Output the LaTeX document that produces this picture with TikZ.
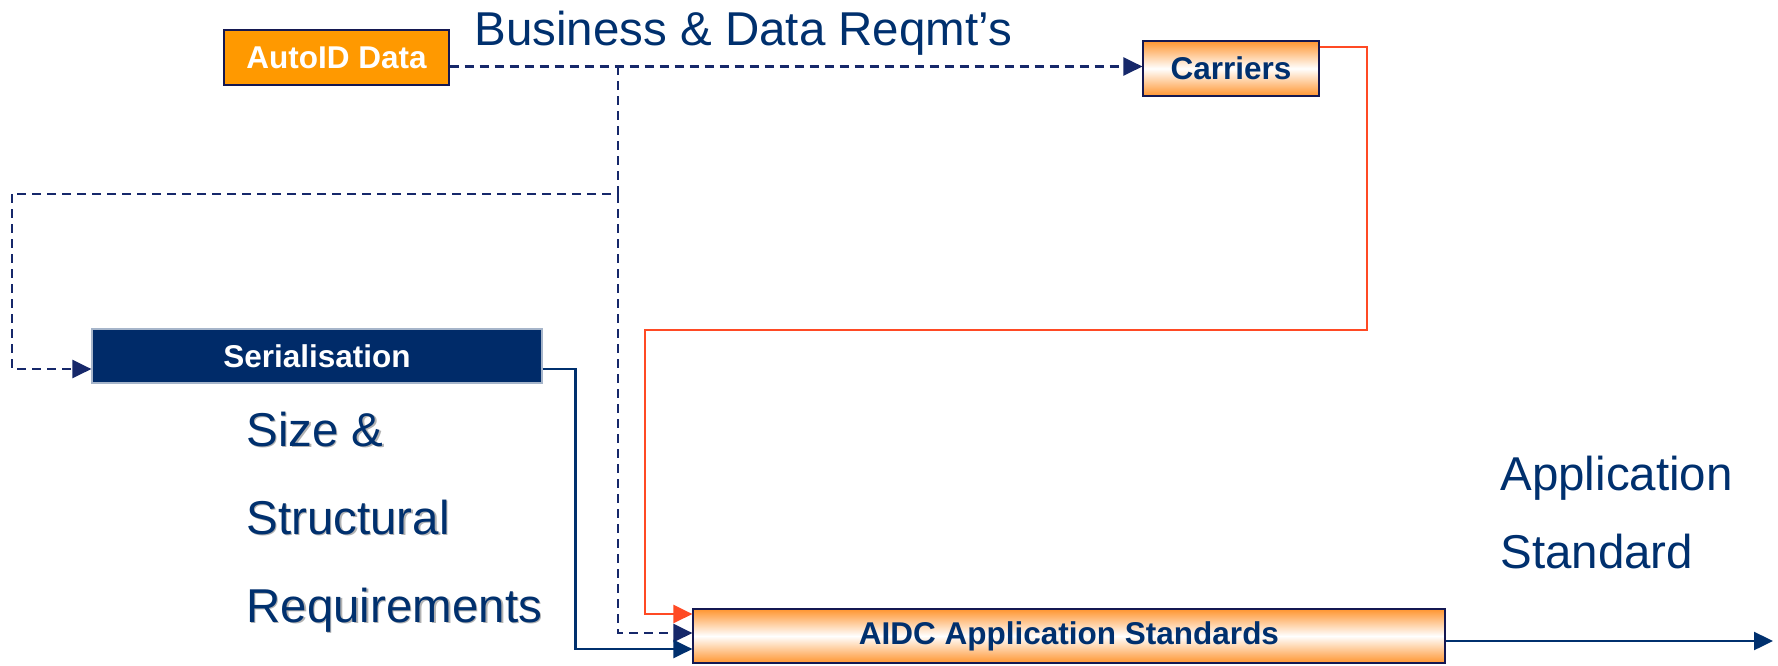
\documentclass[tikz,border=0pt]{standalone}
\usepackage{fontspec}
\setmainfont{Liberation Sans}
\usetikzlibrary{arrows.meta}
\definecolor{navy}{HTML}{00306E}
\definecolor{dashnavy}{HTML}{16286A}
\definecolor{boxline}{HTML}{141852}
\definecolor{serfill}{HTML}{002B69}
\definecolor{autoorange}{HTML}{FF9900}
\definecolor{gradorange}{HTML}{FF9530}
\definecolor{redline}{HTML}{FF4A24}
\tikzset{
  box/.style={draw=boxline, line width=0.6pt, inner sep=0pt,
    font=\fontsize{15.75}{18}\selectfont\bfseries},
  gradbox/.style={box, top color=gradorange, bottom color=gradorange,
    middle color=white, text=navy},
  bigtext/.style={inner sep=0pt, text=navy, font=\fontsize{23.75}{44}\selectfont},
  tip/.style={-{Triangle[length=9.5pt,width=9pt]}},
  dashline/.style={draw=dashnavy, line width=1.3pt, dash pattern=on 4.5pt off 3pt},
  redwire/.style={draw=redline, line width=1.3pt},
  navywire/.style={draw=navy, line width=1.2pt}
}

\begin{document}
\begin{tikzpicture}[x=0.5pt,y=-0.5pt]
  \useasboundingbox (0,0) rectangle (1778,665);
  % boxes
  \node[box, fill=autoorange, text=white, minimum width=112.5pt, minimum height=27.5pt]
    (AutoID) at (336.5,57.5) {AutoID Data};
  \node[gradbox, minimum width=88pt, minimum height=27.5pt]
    (Carriers) at (1231,68.5) {Carriers};
  \node[box, draw=serfill!35, fill=serfill, text=white, minimum width=225pt, minimum height=27pt]
    (Serialisation) at (317,356) {Serialisation};
  \node[gradbox, minimum width=376pt, minimum height=27pt]
    (AIDC) at (1069,636) {AIDC Application Standards};
  % texts (base = last line)
  \node[bigtext, anchor=base west] (reqmts) at (474,45) {Business \& Data Reqmt’s};
  \node[bigtext, text=black!30, anchor=base west, align=left] (sizeshadow) at (247.5,623.5)
    {Size \&\\Structural\\Requirements};
  \node[bigtext, anchor=base west, align=left] (size) at (246,622)
    {Size \&\\Structural\\Requirements};
  \node[bigtext, anchor=base west, align=left, font=\fontsize{23.75}{39}\selectfont]
    (appstd) at (1500,568) {Application\\Standard};
  % turning points
  \coordinate (jtop) at (618,66);
  \coordinate (jmid) at (618,194);
  \coordinate (left) at (12,194);
  \coordinate (rtop) at (1367,330);
  \coordinate (rbot) at (645,330);
  \coordinate (out)  at (1773,641);
  % dashed feeds
  \draw[dashline, tip] ([yshift=-4.5pt]AutoID.east) -- ([yshift=-4.5pt]AutoID.east -| Carriers.west);
  \draw[dashline] (jtop) -- (jmid) -- (left);
  \draw[dashline, tip] (left) |- ([yshift=-6.5pt]Serialisation.west);
  \draw[dashline, tip] (jmid) |- ([yshift=1.5pt]AIDC.west);
  % solid feeds
  \draw[navywire, tip] ([yshift=-6.5pt]Serialisation.east) -- ++(16.5pt,0) |- ([yshift=-6.5pt]AIDC.west);
  \draw[redwire, tip] ([yshift=10.75pt]Carriers.east) -| (rtop) -- (rbot) |- ([yshift=11pt]AIDC.west);
  \draw[navywire, tip] ([yshift=-2.5pt]AIDC.east) -- (out);
\end{tikzpicture}
\end{document}
